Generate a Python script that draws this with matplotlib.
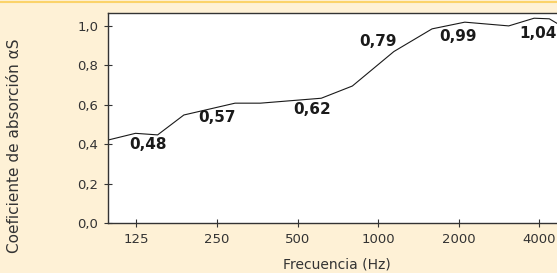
import matplotlib
matplotlib.use("Agg")
import matplotlib.pyplot as plt
from matplotlib.lines import Line2D
from matplotlib.ticker import FixedLocator, NullLocator

# curve (Hz, absorption coefficient)
freqs = [98, 124, 150, 188, 292, 363, 613, 801, 1145, 1590, 2107, 3075, 3824, 4360, 4890]
alpha = [0.421, 0.455, 0.447, 0.548, 0.608, 0.608, 0.633, 0.695, 0.870, 0.985,
         1.019, 1.000, 1.039, 1.036, 0.996]

# bold value labels: (x in Hz, y, text)
label_freqs = [138, 250, 565, 1000, 1990, 3950]
label_vals = [0.396, 0.533, 0.574, 0.920, 0.946, 0.963]
label_texts = ["0,48", "0,57", "0,62", "0,79", "0,99", "1,04"]

xticks = [125, 250, 500, 1000, 2000, 4000]
yticks = [0.0, 0.2, 0.4, 0.6, 0.8, 1.0]

bg = "#fef1d6"
dark = "#333333"

plt.rcParams['font.family'] = ['DejaVu Sans']

fig = plt.figure(figsize=(5.57, 2.73), dpi=100, facecolor=bg)
ax = fig.add_axes([108 / 557, 50 / 273, 470 / 557, 210.3 / 273])
ax.set_facecolor("white")

ax.plot(freqs, alpha, color="#1a1a1a", lw=0.8)

ax.set_xscale('log', base=2)
ax.set_xlim(97.9, 5580)
ax.set_ylim(0, 1.067)

ax.xaxis.set_major_locator(FixedLocator(xticks))
ax.xaxis.set_minor_locator(NullLocator())
ax.set_xticklabels([str(t) for t in xticks])
ax.set_yticks(yticks)
ax.set_yticklabels([f"{t:.1f}".replace(".", ",") for t in yticks])

ax.tick_params(direction="inout", length=6, width=0.8, colors=dark,
               labelsize=9.5, pad=4)
for sp in ax.spines.values():
    sp.set_color(dark)
    sp.set_linewidth(1.0)

for f, v, t in zip(label_freqs, label_vals, label_texts):
    ax.text(f, v, t, ha="center", va="center", fontsize=11,
            fontweight="bold", color="#1a1a1a")

fig.text(337 / 557, 1 - 265 / 273, "Frecuencia (Hz)", ha="center", va="center",
         fontsize=10, color=dark)
fig.text(15 / 557, 1 - 146 / 273, "Coeficiente de absorción αS", ha="center",
         va="center", rotation=90, fontsize=11, color=dark)

# thin orange rule along the top edge
fig.add_artist(Line2D([0, 1], [1 - 1.5 / 273, 1 - 1.5 / 273], color="#fbd36a",
                      lw=1.5, transform=fig.transFigure))

fig.savefig("out.png", dpi=100, facecolor=bg)
